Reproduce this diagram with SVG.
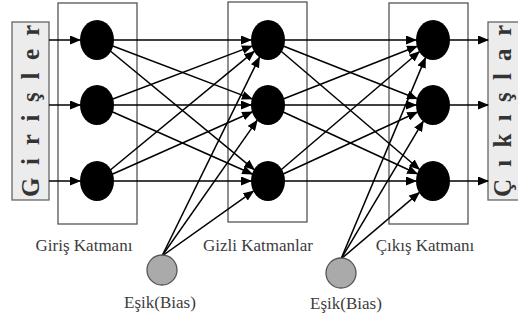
<svg xmlns="http://www.w3.org/2000/svg" width="518" height="322" viewBox="0 0 518 322">
  <style>
    .layer { fill: none; stroke: #555; stroke-width: 1.3; }
    .io { fill: #ececec; stroke: #666; stroke-width: 1.3; }
    .io-text { font-family: "Liberation Serif", serif; font-weight: bold; font-size: 25px; fill: #333; }
    .neuron { fill: #000; }
    .bias { fill: #aaa; stroke: #555; stroke-width: 1.3; }
    .label { font-family: "Liberation Serif", serif; font-size: 17px; fill: #3c3c3c; text-anchor: middle; }
    .link { stroke: #000; stroke-width: 1.5; fill: none; marker-end: url(#arrow); }
    .bias-link { stroke: #000; stroke-width: 1.5; fill: none; marker-end: url(#arrow); }
  </style>
  <defs>
    <marker id="arrow" markerUnits="userSpaceOnUse" markerWidth="11" markerHeight="9" refX="10" refY="4.5" orient="auto">
      <path d="M0,0 L11,4.5 L0,9 z" fill="#000"/>
    </marker>
  </defs>

  <rect width="518" height="322" fill="#fff"/>

  <!-- inputs column -->
  <g id="inputs">
    <rect class="io" x="12" y="22" width="37" height="178"/>
    <text class="io-text" transform="translate(39,197) rotate(-90)" textLength="172" lengthAdjust="spacing">Girişler</text>
  </g>

  <!-- outputs column -->
  <g id="outputs">
    <rect class="io" x="488" y="22" width="40" height="178"/>
    <text class="io-text" transform="translate(511,197) rotate(-90)" textLength="172" lengthAdjust="spacing">Çıkışlar</text>
  </g>

  <!-- layer frames -->
  <g id="input-layer"><rect class="layer" x="58" y="3" width="79" height="221"/></g>
  <g id="hidden-layer"><rect class="layer" x="228" y="2" width="79" height="220"/></g>
  <g id="output-layer"><rect class="layer" x="389" y="3" width="79" height="221"/></g>

  <!-- connectors -->
  <g id="connectors">
    <!-- inputs to input layer -->
    <line class="link" x1="49" y1="40" x2="80" y2="40"/>
    <line class="link" x1="49" y1="105" x2="80" y2="105"/>
    <line class="link" x1="49" y1="181" x2="80" y2="181"/>

    <!-- input layer to hidden layer -->
    <line class="link" x1="97" y1="40" x2="251" y2="40"/>
    <line class="link" x1="97" y1="40" x2="252" y2="98.9"/>
    <line class="link" x1="97" y1="40" x2="254.2" y2="169.6"/>
    <line class="link" x1="97" y1="105" x2="252" y2="46.1"/>
    <line class="link" x1="97" y1="105" x2="251" y2="105"/>
    <line class="link" x1="97" y1="105" x2="252.2" y2="174"/>
    <line class="link" x1="97" y1="181" x2="254.2" y2="51.4"/>
    <line class="link" x1="97" y1="181" x2="252.2" y2="112"/>
    <line class="link" x1="97" y1="181" x2="251" y2="181"/>

    <!-- bias to hidden layer -->
    <line class="bias-link" x1="162" y1="256" x2="259.4" y2="57.3"/>
    <line class="bias-link" x1="162" y1="256" x2="257.1" y2="120.4"/>
    <line class="bias-link" x1="162" y1="256" x2="253.4" y2="191.1"/>

    <!-- hidden layer to output layer -->
    <line class="link" x1="268" y1="40" x2="416" y2="40"/>
    <line class="link" x1="268" y1="40" x2="417" y2="98.7"/>
    <line class="link" x1="268" y1="40" x2="419.3" y2="169.3"/>
    <line class="link" x1="268" y1="105" x2="417" y2="46.3"/>
    <line class="link" x1="268" y1="105" x2="416" y2="105"/>
    <line class="link" x1="268" y1="105" x2="417.2" y2="173.8"/>
    <line class="link" x1="268" y1="181" x2="419.3" y2="51.7"/>
    <line class="link" x1="268" y1="181" x2="417.2" y2="112.2"/>
    <line class="link" x1="268" y1="181" x2="416" y2="181"/>

    <!-- bias to output layer -->
    <line class="bias-link" x1="341" y1="259" x2="425.4" y2="57.9"/>
    <line class="bias-link" x1="341" y1="259" x2="423.2" y2="121.3"/>
    <line class="bias-link" x1="341" y1="259" x2="419.2" y2="192.6"/>

    <!-- output layer to outputs -->
    <line class="link" x1="433" y1="40" x2="488" y2="40"/>
    <line class="link" x1="433" y1="105" x2="488" y2="105"/>
    <line class="link" x1="433" y1="181" x2="488" y2="181"/>
  </g>

  <!-- neurons -->
  <g id="n-in-1"><ellipse class="neuron" cx="97" cy="40" rx="17" ry="20"/></g>
  <g id="n-in-2"><ellipse class="neuron" cx="97" cy="105" rx="17" ry="20"/></g>
  <g id="n-in-3"><ellipse class="neuron" cx="97" cy="181" rx="17" ry="20"/></g>
  <g id="n-hid-1"><ellipse class="neuron" cx="268" cy="40" rx="17" ry="20"/></g>
  <g id="n-hid-2"><ellipse class="neuron" cx="268" cy="105" rx="17" ry="20"/></g>
  <g id="n-hid-3"><ellipse class="neuron" cx="268" cy="181" rx="17" ry="20"/></g>
  <g id="n-out-1"><ellipse class="neuron" cx="433" cy="40" rx="17" ry="20"/></g>
  <g id="n-out-2"><ellipse class="neuron" cx="433" cy="105" rx="17" ry="20"/></g>
  <g id="n-out-3"><ellipse class="neuron" cx="433" cy="181" rx="17" ry="20"/></g>

  <!-- bias units -->
  <g id="bias-1"><circle class="bias" cx="162" cy="270" r="15"/></g>
  <g id="bias-2"><circle class="bias" cx="341" cy="273" r="15"/></g>

  <!-- captions -->
  <g id="labels">
    <text class="label" x="84" y="251">Giriş Katmanı</text>
    <text class="label" x="258" y="251">Gizli Katmanlar</text>
    <text class="label" x="425" y="251">Çıkış Katmanı</text>
    <text class="label" x="160" y="308">Eşik(Bias)</text>
    <text class="label" x="346" y="309">Eşik(Bias)</text>
  </g>
</svg>
